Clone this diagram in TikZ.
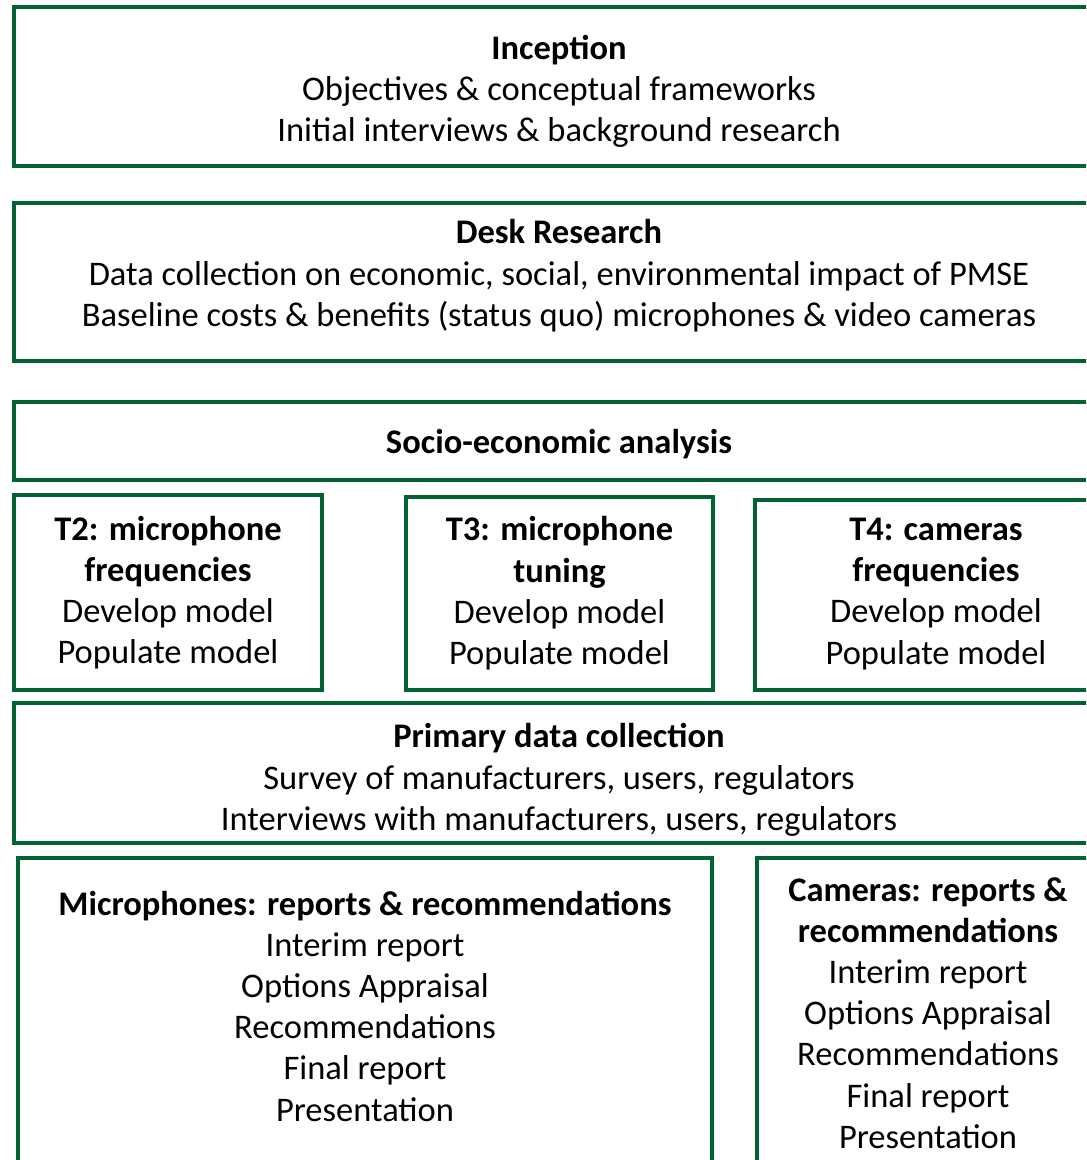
\documentclass[tikz,border=0pt]{standalone}
\usepackage{fontspec}
\setmainfont{Carlito}
\definecolor{stagegreen}{RGB}{0,99,49}
\tikzstyle{every node}=[font=\fontsize{17.25}{20.6}\selectfont]
\tikzstyle{stage}=[draw=stagegreen,line width=2.2pt,rectangle,align=center,anchor=north west,inner sep=0pt,outer sep=0pt]

\begin{document}
\begin{tikzpicture}[x=0.5pt,y=-0.5pt]
  \useasboundingbox (0,0) rectangle (1086,1160);
  \clip (0,0) rectangle (1086,1160);
  % top stages
  \node[stage,minimum width=545pt,minimum height=79.5pt] (inception) at (14,7)
    {\rule{0pt}{17pt}\textbf{Inception}\\Objectives \& conceptual frameworks\\Initial interviews \& background research};
  \node[stage,minimum width=545pt,minimum height=79pt] (desk) at (14,203)
    {\textbf{Desk Research}\\Data collection on economic, social, environmental impact of PMSE\\Baseline costs \& benefits (status quo) microphones \& video cameras\rule[-9pt]{0pt}{0pt}};
  \node[stage,minimum width=545pt,minimum height=39pt] (socio) at (14,402)
    {\rule{0pt}{15pt}\textbf{Socio-economic analysis}};
  % models
  \node[stage,minimum width=154pt,minimum height=97.5pt] (t2) at (14,495)
    {\textbf{T2: microphone}\\\textbf{frequencies}\\Develop model\\Populate model};
  \node[stage,minimum width=153.5pt,minimum height=96.5pt] (t3) at (406,497)
    {\textbf{T3: microphone}\\\textbf{tuning}\\Develop model\\Populate model\rule[-3pt]{0pt}{0pt}};
  \node[stage,minimum width=181pt,minimum height=95pt] (t4) at (755,500)
    {\textbf{T4: cameras}\\\textbf{frequencies}\\Develop model\\Populate model\rule[-4pt]{0pt}{0pt}};
  \node[stage,minimum width=545pt,minimum height=70pt] (primary) at (14,703)
    {\rule{0pt}{19pt}\textbf{Primary data collection}\\Survey of manufacturers, users, regulators\\Interviews with manufacturers, users, regulators};
  % reports
  \node[stage,minimum width=347pt,minimum height=155pt] (mic) at (18,858)
    {\textbf{Microphones: reports \& recommendations}\\Interim report\\Options Appraisal\\Recommendations\\Final report\\Presentation\rule[-7pt]{0pt}{0pt}};
  \node[stage,minimum width=171pt,minimum height=155pt] (cam) at (757,858)
    {\textbf{Cameras: reports \&}\\\textbf{recommendations}\\Interim report\\Options Appraisal\\Recommendations\\Final report\\Presentation};
\end{tikzpicture}
\end{document}
